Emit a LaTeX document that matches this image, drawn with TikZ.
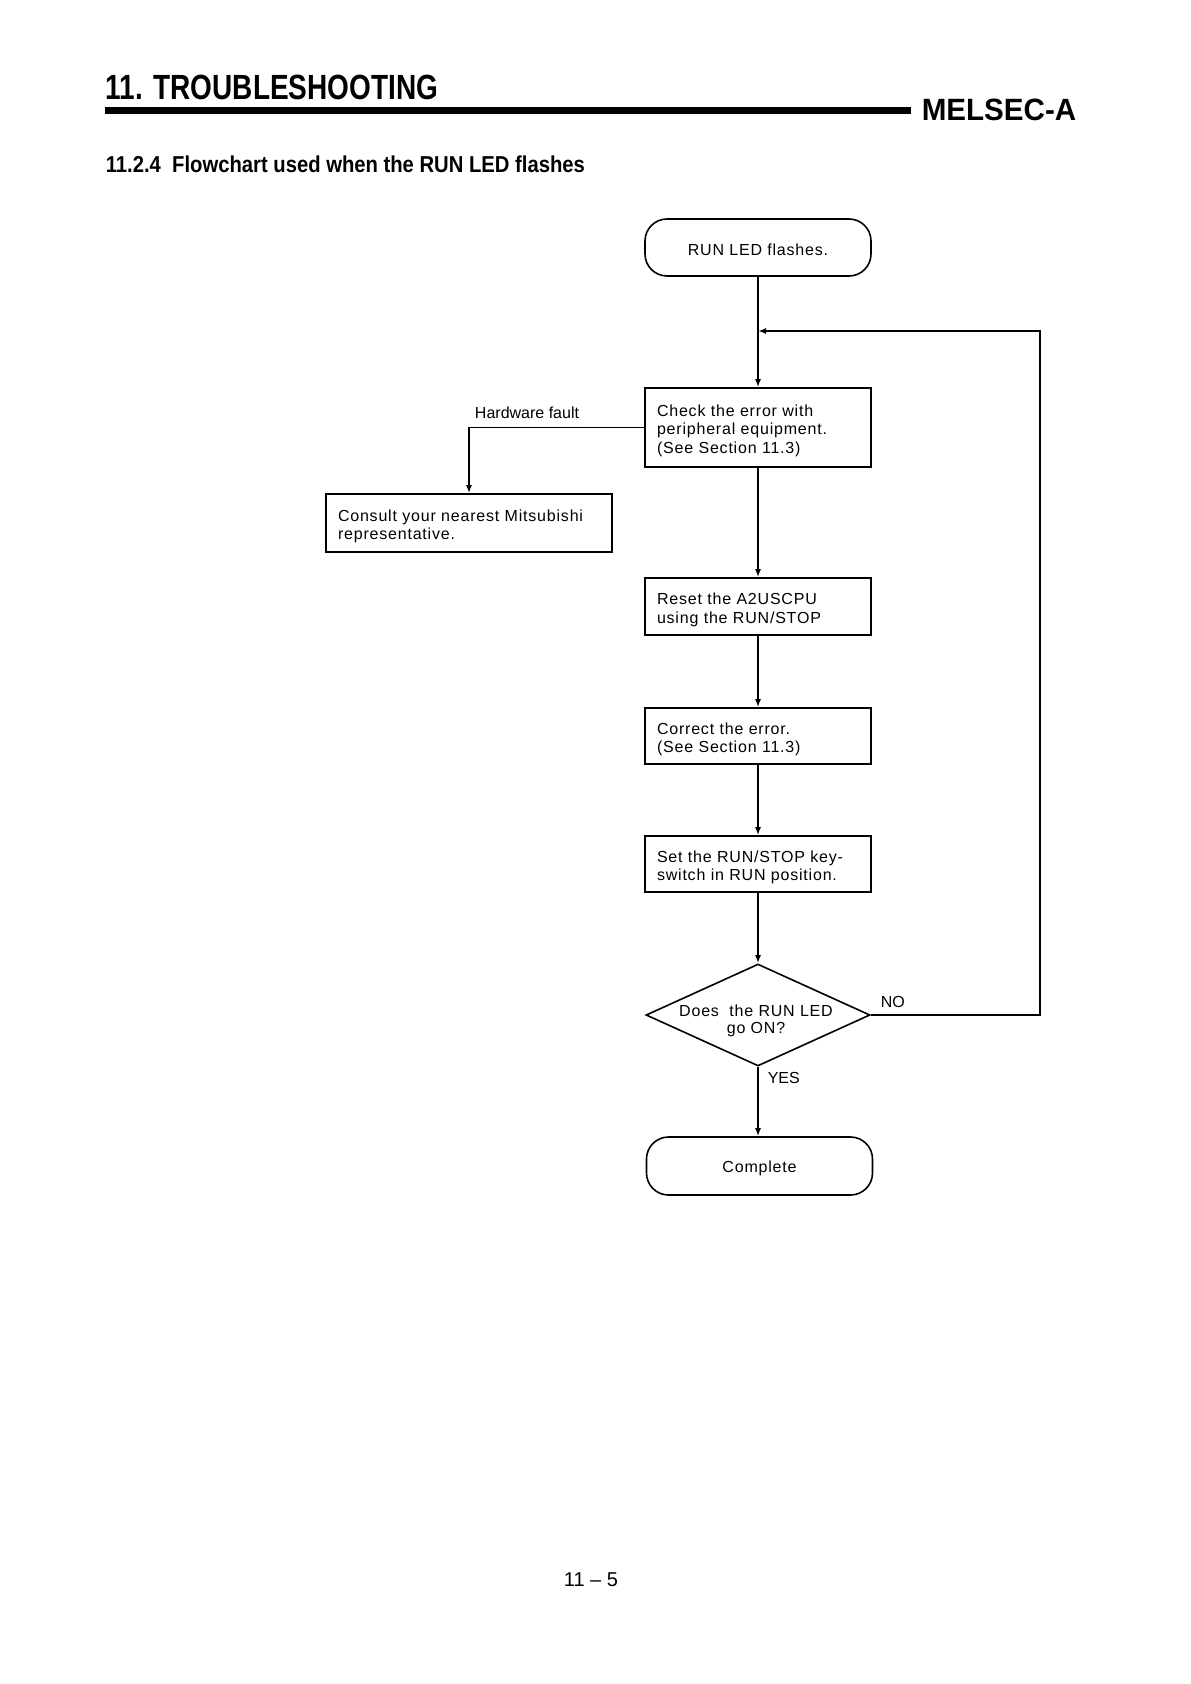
\documentclass[tikz,border=0pt]{standalone}
\usepackage{fontspec}
\setmainfont{Liberation Sans}
\newfontfamily\boxfont[LetterSpace=5]{Liberation Sans}
\usetikzlibrary{shapes.geometric,arrows.meta}
\begin{document}
\begin{tikzpicture}[x=0.5pt,y=-0.5pt,
  line width=0.8pt,
  box/.style={draw, rectangle, text width=101pt, inner xsep=6pt, inner ysep=0pt, text height=9pt, align=left, font=\boxfont\fontsize{8}{9.2}\selectfont},
  term/.style={draw, rectangle, rounded corners=11pt, minimum width=113pt, minimum height=28.5pt, text height=8pt, font=\boxfont\fontsize{8}{9.2}\selectfont},
  decision/.style={draw, diamond, minimum width=112pt, minimum height=51pt, inner sep=0pt},
  arr/.style={-{Latex[length=4pt,width=3pt]}},
  lbl/.style={font=\fontsize{8}{9}\selectfont, inner sep=1pt}
]
\useasboundingbox (0,0) rectangle (1190,1684);
% header
\node[anchor=base west, inner sep=0pt, font=\bfseries\fontsize{17.5}{20}\selectfont] (title) at (105,100) {\scalebox{0.8}[1]{11. TROUBLESHOOTING}};
\fill (105,107) rectangle (911,114);
\node[anchor=base east, inner sep=0pt, font=\bfseries\fontsize{15.4}{18}\selectfont] (mel) at (1077,121) {\scalebox{0.96}[1]{MELSEC-A}};
\node[anchor=base west, inner sep=0pt, font=\bfseries\fontsize{11.5}{14}\selectfont] (sub) at (105,173) {\scalebox{0.88}[1]{11.2.4\ \ Flowchart used when the RUN LED flashes}};
% flowchart
\node[term] (start) at (758,247.5) {RUN LED flashes.};
\node[box, minimum height=39.5pt] (chk) at (758,427.5) {Check the error with\\peripheral equipment.\\(See Section 11.3)};
\node[box, minimum height=29pt, text width=131pt] (cons) at (469,523) {Consult your nearest Mitsubishi\\representative.};
\node[box, minimum height=28.5pt] (rst) at (758,606.5) {Reset the A2USCPU\\using the RUN/STOP};
\node[box, minimum height=28pt] (cor) at (758,736) {Correct the error.\\(See Section 11.3)};
\node[box, minimum height=28pt] (set) at (758,864) {Set the RUN/STOP key-\\switch in RUN position.};
\node[decision] (dec) at (758,1015) {};
\node[font=\boxfont\fontsize{8}{8.5}\selectfont, align=center, inner sep=0pt] (dect) at (756,1020.5) {Does\ \ the RUN LED\\go ON?};
\node[term, minimum height=29pt] (done) at (759.5,1166) {Complete};
% labels
\node[lbl] (hw) at (527,413) {Hardware fault};
\node[lbl, anchor=west] (no) at (878,1002) {NO};
\node[lbl, anchor=west] (yes) at (765,1078) {YES};
% connectors
\coordinate (join) at (758,331);
\coordinate (loopR) at (1040,331);
\draw[arr] (start.south) -- (chk.north);
\draw[arr] (dec.east) -| (loopR) -- (join);
\draw[arr] (chk.west) -| (cons.north);
\draw[arr] (chk.south) -- (rst.north);
\draw[arr] (rst.south) -- (cor.north);
\draw[arr] (cor.south) -- (set.north);
\draw[arr] (set.south) -- (dec.north);
\draw[arr] (dec.south) -- (dec.south |- done.north);
% page number
\node[font=\fontsize{10}{12}\selectfont] (pg) at (591,1580) {11 \textendash{} 5};
\end{tikzpicture}
\end{document}
